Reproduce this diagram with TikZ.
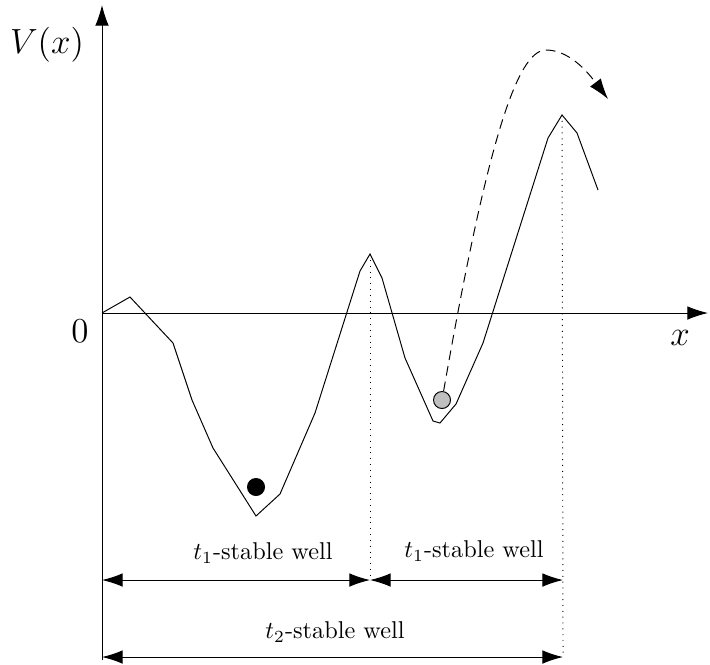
\documentclass[tikz,border=0pt]{standalone}
\usetikzlibrary{arrows.meta}

\newcommand*{\xmin}{-2.04}
\newcommand*{\xmax}{12.12}
\newcommand*{\ymin}{-6.94}
\newcommand*{\ymax}{6.16}

\begin{document}
\begin{tikzpicture}
[
	>={Latex[length=8.5pt,width=5.6pt]},
	ball/.style={circle,draw,inner sep=0pt,minimum size=7pt},
	wellarrow/.style={<->},
	guide/.style={dotted},
	scale=0.723
]
	\useasboundingbox (\xmin,-7.02) rectangle (12.16,6.26);

	% axes
	\draw[->] (0,\ymin) -- (0,\ymax);
	\draw[->] (0,0) -- (\xmax,0);
	\node at (-1.10,5.36) (vx) {\Large $V(x)$};
	\node at (-0.44,-0.36) (zero) {\Large $0$};
	\node at (11.56,-0.50) (xlab) {\Large $x$};

	% potential
	\draw (0,0) -- (0.56,0.32) -- (1.42,-0.60) -- (1.80,-1.74) -- (2.22,-2.70)
		-- (3.08,-4.06) -- (3.56,-3.62) -- (4.26,-2.00) -- (5.16,0.84)
		-- (5.36,1.18) coordinate (p1) -- (5.60,0.70) -- (6.06,-0.90)
		-- (6.62,-2.16) -- (6.76,-2.20) -- (7.08,-1.82) -- (7.62,-0.60)
		-- (8.92,3.50) -- (9.20,3.96) coordinate (p2) -- (9.50,3.60) -- (9.92,2.46);

	\node[ball,fill=black] at (3.08,-3.48) (b1) {};
	\node[ball,fill=black!25] at (6.80,-1.74) (b2) {};

	% escape
	\draw[dash pattern=on 4pt off 2.5pt,->] (b2.80) .. controls (7.7,3.4) and (8.3,5.26) .. (8.88,5.26)
		.. controls (9.4,5.26) and (9.8,4.7) .. (10.12,4.28);

	% wells
	\coordinate (a1) at (0,-5.34);
	\coordinate (m1) at (5.36,-5.34);
	\coordinate (e1) at (9.22,-5.34);
	\coordinate (a2) at (0,-6.88);
	\coordinate (e2) at (9.22,-6.88);

	\draw[guide] (p1) -- (m1);
	\draw[guide] (p2) -- (e2);

	\draw[wellarrow] (a1) -- (m1);
	\draw[wellarrow] (m1) -- (e1);
	\draw[wellarrow] (a2) -- (e2);

	\node at (3.22,-4.80) (w1) {$t_1$-stable well};
	\node at (7.44,-4.76) (w2) {$t_1$-stable well};
	\node at (4.66,-6.38) (w3) {$t_2$-stable well};

\end{tikzpicture}
\end{document}
